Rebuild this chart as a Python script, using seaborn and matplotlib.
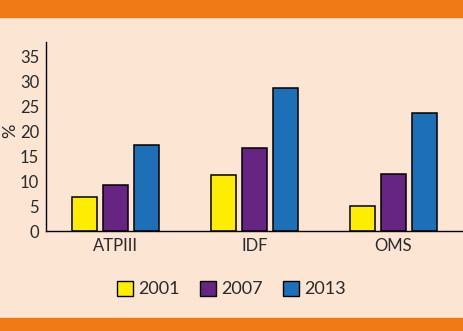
import pandas as pd
import matplotlib.pyplot as plt
import matplotlib.patches as mpatches
import seaborn as sns

# Data
criteria = ['ATPIII', 'IDF', 'OMS']
years = ['2001', '2007', '2013']
v2001 = [6.8, 11.2, 5.0]
v2007 = [9.2, 16.7, 11.4]
v2013 = [17.3, 28.8, 23.8]
yticks = [0, 5, 10, 15, 20, 25, 30, 35]

colors = ['#FFED00', '#662583', '#1D70B7']
bg = '#FDE5D4'
orange = '#F07B16'

df = pd.DataFrame({
    'Criterio': criteria * 3,
    'Año': [y for y in years for _ in criteria],
    'Valor': v2001 + v2007 + v2013,
})

sns.set_style('white')
plt.rcParams['font.family'] = ['Lato', 'DejaVu Sans']
plt.rcParams['text.color'] = '#2a2a2a'

fig = plt.figure(figsize=(4.63, 3.31), dpi=100, facecolor=bg)
ax = fig.add_axes([46 / 463, 1 - 231 / 331, 1 - 46 / 463, (231 - 42) / 331])
ax.set_facecolor(bg)

sns.barplot(data=df, x='Criterio', y='Valor', hue='Año', order=criteria,
            hue_order=years, palette=colors, width=0.67, gap=0.22,
            edgecolor='black', linewidth=1.1, saturation=1, ax=ax, legend=False)

ax.set_xlim(-0.5, 2.5)
ax.set_ylim(0, 38)
ax.set_yticks(yticks)
ax.set_yticklabels([str(t) for t in yticks], fontsize=12, color='#2a2a2a')
ax.set_xticks(range(len(criteria)))
ax.set_xticklabels(criteria, fontsize=12, color='#2a2a2a')
ax.set_xticks([0.5, 1.5], minor=True)
ax.tick_params(axis='x', which='major', length=0, pad=5)
ax.tick_params(axis='x', which='minor', length=5, width=1, color='black', direction='out')
ax.tick_params(axis='y', length=3, width=1, color='black', direction='out', pad=2)
ax.set_xlabel('')
ax.set_ylabel('%', fontsize=13)
ax.yaxis.set_label_coords(-0.066, 0.53)
for s in ['top', 'right']:
    ax.spines[s].set_visible(False)
for s in ['left', 'bottom']:
    ax.spines[s].set_color('black')
    ax.spines[s].set_linewidth(1)

# Orange bands top and bottom
fig.patches.append(mpatches.Rectangle((0, 1 - 17 / 331), 1, 17 / 331,
                                      transform=fig.transFigure, color=orange, zorder=0))
fig.patches.append(mpatches.Rectangle((0, 0), 1, 13 / 331,
                                      transform=fig.transFigure, color=orange, zorder=0))

handles = [mpatches.Patch(facecolor=c, edgecolor='black', linewidth=1) for c in colors]
fig.legend(handles, years, loc='center', bbox_to_anchor=(0.5, 1 - 289 / 331),
           ncol=3, frameon=False, fontsize=13, handlelength=0.9, handleheight=0.9,
           handletextpad=0.3, columnspacing=1.1)

fig.savefig('out.png', dpi=100, facecolor=bg)
